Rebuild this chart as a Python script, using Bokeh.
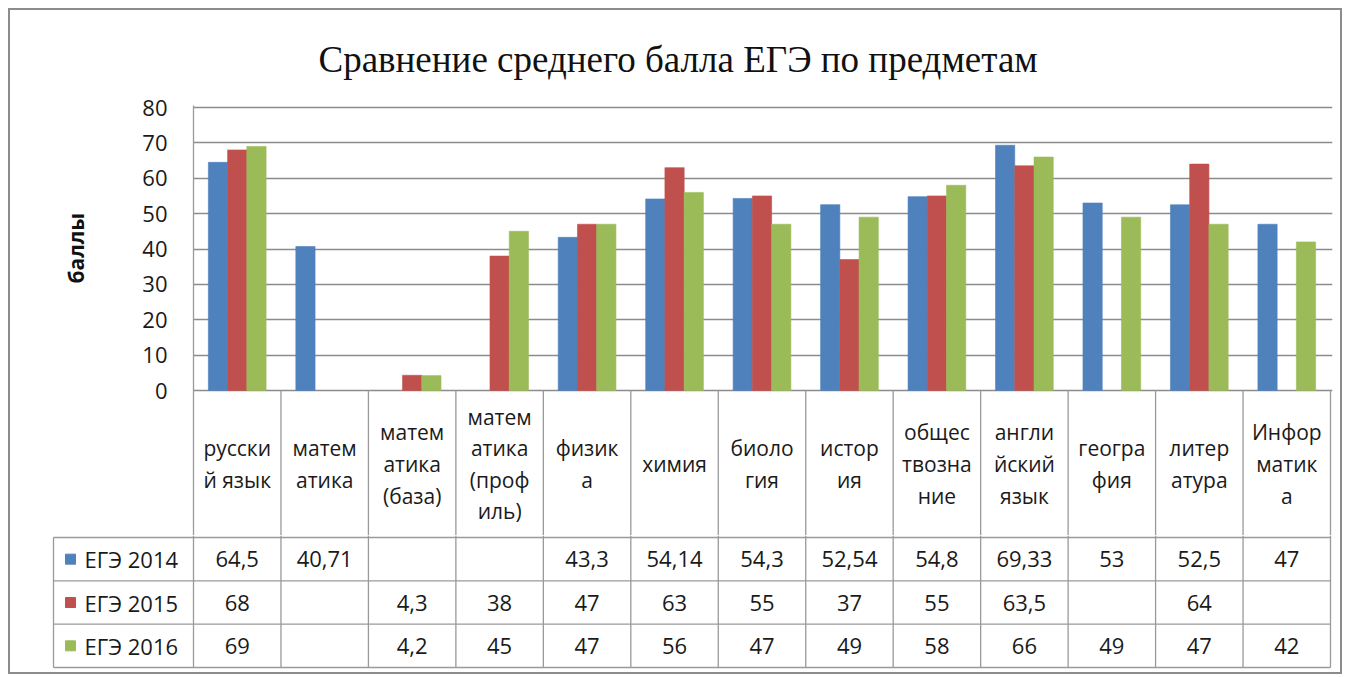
import math
from bokeh.plotting import figure
from bokeh.layouts import column
from bokeh.models import Range1d, FixedTicker, ColumnDataSource, Title
from bokeh.core.properties import value
from bokeh.embed import file_html
from bokeh.resources import INLINE

# ---------------- data ----------------
subjects = ["русски\nй язык", "матем\nатика", "матем\nатика\n(база)", "матем\nатика\n(проф\nиль)",
            "физик\nа", "химия", "биоло\nгия", "истор\nия", "общес\nтвозна\nние",
            "англи\nйский\nязык", "геогра\nфия", "литер\nатура", "Инфор\nматик\nа"]
series_names = ["ЕГЭ 2014", "ЕГЭ 2015", "ЕГЭ 2016"]
ege_2014 = [64.5, 40.71, None, None, 43.3, 54.14, 54.3, 52.54, 54.8, 69.33, 53, 52.5, 47]
ege_2015 = [68, None, 4.3, 38, 47, 63, 55, 37, 55, 63.5, None, 64, None]
ege_2016 = [69, None, 4.2, 45, 47, 56, 47, 49, 58, 66, 49, 47, 42]
y_ticks = [0, 10, 20, 30, 40, 50, 60, 70, 80]
title_text = "Сравнение среднего балла  ЕГЭ по предметам"
y_label = "баллы"

series = [ege_2014, ege_2015, ege_2016]
colors = ["#4F81BD", "#C0504D", "#9BBB59"]
grid_col = "#8c8c8c"
table_col = "#9a9a9a"
FONT = "Open Sans"
FS = "22px"

def fmt(v):
    return "" if v is None else f"{v:g}".replace(".", ",")

n = len(subjects)
W = 1330
plot_left, plot_right = 183, 1320  # frame edges relative to figure origin
unit = (plot_right - plot_left) / n
ppu = 283 / 80.0          # pixels per score point
hdr_px = 147              # height of the category-label row of the table
hdr_in = hdr_px - 2       # part of it drawn in the chart figure

# ---------------- top chart (incl. category header row) ----------------
frame_top = 95
frame_h = 2 + 283 + hdr_in
top_h = frame_top + frame_h
p1 = figure(width=W, height=top_h, x_range=Range1d(0, n + 2 / unit),
            y_range=Range1d(-hdr_in / ppu, 80 + 2 / ppu),
            x_axis_location=None, toolbar_location=None, output_backend="svg",
            min_border_left=plot_left, min_border_right=W - plot_right - 2,
            min_border_top=frame_top, min_border_bottom=0)
p1.frame_align = False
p1.outline_line_color = None
p1.background_fill_color = "white"
p1.border_fill_color = "white"
p1.xgrid.visible = False
p1.ygrid.ticker = FixedTicker(ticks=y_ticks)
p1.ygrid.grid_line_color = grid_col
p1.ygrid.grid_line_width = 1.3
yax = p1.yaxis[0]
yax.ticker = FixedTicker(ticks=y_ticks)
yax.major_tick_out = 0
yax.major_tick_in = 0
yax.minor_tick_out = 0
yax.minor_tick_in = 0
yax.axis_line_color = table_col
yax.axis_line_width = 1.3
yax.major_label_text_font = FONT
yax.major_label_text_font_size = FS
yax.major_label_text_color = "#1a1a1a"
yax.major_label_standoff = 26

# y-axis caption, placed beside the 0-80 scale
p1.add_layout(Title(text=y_label, align="left", offset=252, standoff=99,
                    text_font=FONT, text_font_size="21px", text_font_style="bold",
                    text_color="#111111"), "left")

bar_w = 0.22
offsets = [-bar_w, 0.0, bar_w]
for s, vals in enumerate(series):
    xs, tops = [], []
    for i, v in enumerate(vals):
        if v is not None:
            xs.append(i + 0.5 + offsets[s])
            tops.append(v)
    src = ColumnDataSource(dict(x=xs, top=tops))
    p1.vbar(x="x", top="top", width=bar_w, bottom=0, source=src,
            fill_color=colors[s], line_color=colors[s], line_alpha=0.6)

# column lines of the header row
stub_x = list(range(1, n + 1))
p1.segment(x0=stub_x, y0=[-hdr_in / ppu] * n, x1=stub_x, y1=[0] * n,
           line_color=table_col, line_width=1.3)
# category labels
p1.text(x=[i + 0.5 for i in range(n)], y=[-(hdr_px / 2) / ppu] * n, text=subjects,
        text_align="center", text_baseline="middle", text_font=value(FONT),
        text_font_size="21px", text_line_height=1.13, text_color="#1a1a1a")

p1.title = Title(text=title_text, align="left", text_font="Liberation Serif",
                 text_font_size="37px", text_font_style="normal", text_color="#111111",
                 offset=125, standoff=52)

# ---------------- data rows of the table ----------------
row_px = (667 - 537) / 3
left_px = 140  # width of series-label column
x0 = -left_px / unit
frame2_h = 2 + 130 + 2
bot_h = frame2_h + 3
p2 = figure(width=W, height=bot_h,
            x_range=Range1d(x0 - 2 / unit, n + 2 / unit),
            y_range=Range1d(-3 - 2 / row_px, 2 / row_px),
            x_axis_location=None, y_axis_location=None, toolbar_location=None,
            output_backend="svg",
            min_border_left=plot_left - left_px - 2, min_border_right=W - plot_right - 2,
            min_border_top=0, min_border_bottom=bot_h - frame2_h)
p2.frame_align = False
p2.outline_line_color = None
p2.grid.visible = False
p2.background_fill_color = "white"
p2.border_fill_color = "white"

hy = [0, -1, -2, -3]
p2.segment(x0=[x0] * 4, y0=hy, x1=[n] * 4, y1=hy, line_color=table_col, line_width=1.3)
vx = list(range(n + 1)) + [x0]
vy1 = [2 / row_px] * (n + 1) + [0]
p2.segment(x0=vx, y0=[-3] * (n + 2), x1=vx, y1=vy1, line_color=table_col, line_width=1.3)

for s, vals in enumerate(series):
    xs = [i + 0.5 for i, v in enumerate(vals) if v is not None]
    ts = [fmt(v) for v in vals if v is not None]
    p2.text(x=xs, y=[-(s + 0.5)] * len(xs), text=ts, text_align="center",
            text_baseline="middle", text_font=value(FONT), text_font_size=FS,
            text_color="#1a1a1a")

key_x = x0 + 17 / unit
lab_x = x0 + 31 / unit
p2.scatter(x=[key_x] * 3, y=[-(s + 0.5) for s in range(3)], marker="square", size=10,
           fill_color=colors, line_color=colors)
p2.text(x=[lab_x] * 3, y=[-(s + 0.5) for s in range(3)], text=series_names,
        text_align="left", text_baseline="middle", text_font=value(FONT),
        text_font_size=FS, text_color="#1a1a1a")

layout = column(p1, p2, spacing=0,
                styles={"border": "2px solid #8c8c8c", "background": "white",
                        "margin-left": "8px", "margin-top": "8px"})

open("out.html", "w").write(file_html(layout, INLINE))
